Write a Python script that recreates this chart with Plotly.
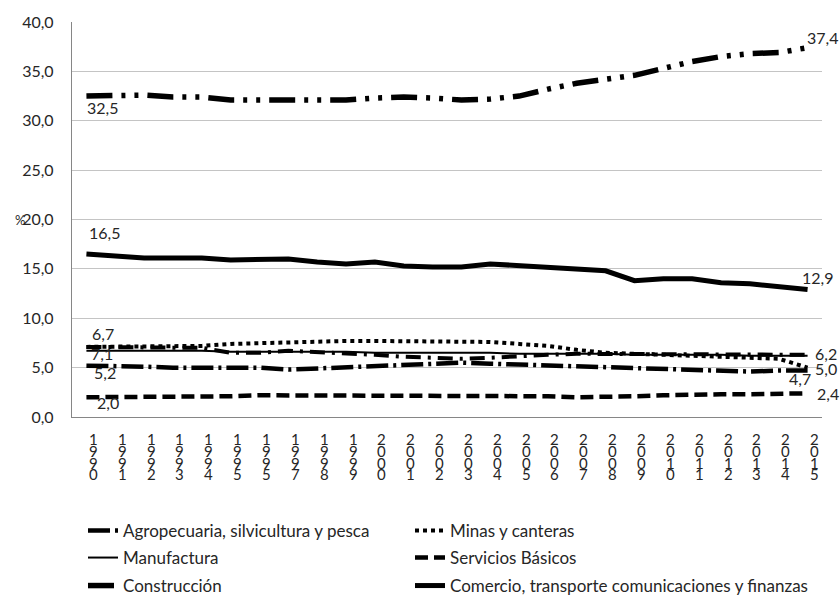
import plotly.graph_objects as go

#Data (percent of total)
year_labels = ["1990", "1991", "1992", "1993", "1994", "1995", "1995", "1997", "1998", "1999",
               "2000", "2001", "2002", "2003", "2004", "2005", "2006", "2007", "2008", "2009",
               "2010", "2011", "2012", "2013", "2014", "2015"]

agropecuaria = [5.2, 5.2, 5.1, 5.0, 5.0, 5.0, 5.0, 4.8, 4.9, 5.0, 5.1, 5.2, 5.4, 5.5, 5.4, 5.3,
                5.2, 5.1, 5.0, 4.9, 4.9, 4.8, 4.7, 4.6, 4.7, 4.7]
minas = [7.1, 7.1, 7.1, 7.1, 7.2, 7.4, 7.5, 7.6, 7.7, 7.7, 7.7, 7.7, 7.7, 7.7, 7.6, 7.4,
         7.2, 6.8, 6.5, 6.4, 6.3, 6.3, 6.2, 6.0, 5.9, 5.0]
manufactura = [6.7, 6.7, 6.7, 6.7, 6.7, 6.6, 6.6, 6.6, 6.6, 6.6, 6.5, 6.5, 6.5, 6.5, 6.5, 6.4,
               6.4, 6.4, 6.4, 6.3, 6.3, 6.3, 6.3, 6.2, 6.2, 6.2]
servicios = [2.0, 2.0, 2.0, 2.0, 2.1, 2.1, 2.2, 2.2, 2.2, 2.2, 2.2, 2.2, 2.2, 2.1, 2.1, 2.1,
             2.1, 2.0, 2.0, 2.1, 2.2, 2.3, 2.3, 2.3, 2.3, 2.4]
construccion = [32.5, 32.5, 32.6, 32.4, 32.4, 32.1, 32.1, 32.1, 32.1, 32.1, 32.3, 32.4, 32.3,
                32.1, 32.2, 32.5, 33.2, 33.8, 34.2, 34.6, 35.3, 36.0, 36.5, 36.8, 36.9, 37.4]
comercio = [16.5, 16.3, 16.1, 16.1, 16.1, 15.9, 15.9, 16.0, 15.7, 15.5, 15.7, 15.3, 15.2,
            15.2, 15.5, 15.3, 15.1, 15.0, 14.8, 13.8, 14.0, 14.0, 13.6, 13.5, 13.2, 12.9]
#extra dash-dot line drawn in the chart without a legend entry
otros = [7.1, 7.1, 7.0, 7.0, 7.0, 6.5, 6.5, 6.7, 6.6, 6.4, 6.3, 6.1, 6.0, 5.9, 6.0, 6.2,
         6.3, 6.4, 6.4, 6.3, 6.3, 6.4, 6.4, 6.4, 6.4, 6.3]

x = list(range(len(year_labels)))
FONT = "Lato, sans-serif"
TXT = "#262626"

fig = go.Figure()


def add_line(y, name, width, dash, legend, show=True):
    fig.add_trace(go.Scatter(x=x, y=y, name=name, mode="lines", legend=legend,
                             showlegend=show,
                             line=dict(color="black", width=width, dash=dash)))


#one legend per entry so the two columns sit where the reference has them
add_line(otros, "otros", 4, "15px,7px,3px,7px", "legend", show=False)
add_line(agropecuaria, "Agropecuaria, silvicultura y pesca", 4.5, "22px,5px,3px,5px", "legend")
add_line(minas, "Minas y canteras", 4, "4px,4px", "legend2")
add_line(manufactura, "Manufactura", 2, "solid", "legend3")
add_line(servicios, "Servicios Básicos", 4.5, "13px,6px", "legend4")
add_line(construccion, "Construcción", 5.5, "26px,9px,4px,9px,4px,9px", "legend5")
add_line(comercio, "Comercio, transporte comunicaciones y finanzas", 5, "solid", "legend6")


def fmt(v):
    return f"{v:.1f}".replace(".", ",")


#first / last point labels
labels = [
    (construccion, 0, 16, -11), (construccion, 25, 15, 10),
    (comercio, 0, 18, 22), (comercio, 25, 10, 12),
    (manufactura, 0, 17, 17), (manufactura, 25, 18, 2),
    (otros, 0, 16, -7), (minas, 25, 18, -1),
    (agropecuaria, 0, 19, -7), (agropecuaria, 25, -8, -8),
    (servicios, 0, 22, -5), (servicios, 25, 20, 0),
]
for serie, i, dx, dy in labels:
    fig.add_annotation(x=x[i], y=serie[i], text=fmt(serie[i]), showarrow=False,
                       xshift=dx, yshift=dy, font=dict(family=FONT, size=16, color=TXT))

#x labels written as stacked digits
for i, lab in enumerate(year_labels):
    for k, ch in enumerate(lab):
        fig.add_annotation(x=x[i], y=0, text=ch, showarrow=False, xshift=7,
                           yshift=-(22 + 11.8 * k), yanchor="middle",
                           font=dict(family=FONT, size=15, color=TXT))

#% axis title
fig.add_annotation(xref="paper", x=-0.079, y=20, text="%", showarrow=False,
                   font=dict(family=FONT, size=13, color=TXT))


def legend_box(px, py):
    return dict(orientation="h", xref="container", yref="container",
                x=px / 840, y=1 - py / 598, xanchor="left", yanchor="middle",
                itemwidth=30, bgcolor="rgba(0,0,0,0)",
                font=dict(family=FONT, size=17, color=TXT))


fig.update_layout(
    width=840, height=598,
    margin=dict(l=72, r=18, t=17, b=181),
    plot_bgcolor="white", paper_bgcolor="white",
    separators=",.",
    font=dict(family=FONT, size=16, color=TXT),
    legend=legend_box(83, 531),
    legend2=legend_box(410, 531),
    legend3=legend_box(83, 558),
    legend4=legend_box(410, 558),
    legend5=legend_box(83, 586),
    legend6=legend_box(410, 586),
)

fig.update_xaxes(range=[-0.5, len(x) - 0.5], showticklabels=False, showgrid=False,
                 zeroline=False, showline=True, linecolor="#868686", linewidth=1.3)
fig.update_yaxes(range=[0, 40], dtick=5, tickformat=".1f", showgrid=True,
                 gridcolor="#c4c4c4", gridwidth=1.3, zeroline=False, showline=True,
                 linecolor="#868686", linewidth=1.3, ticklabelstandoff=14,
                 tickfont=dict(family=FONT, size=16, color=TXT))

#remove the default page margin so the chart sits at the window corner
fig.write_html("out.html", config={"displayModeBar": False},
               post_script="document.body.style.margin='0px';")
